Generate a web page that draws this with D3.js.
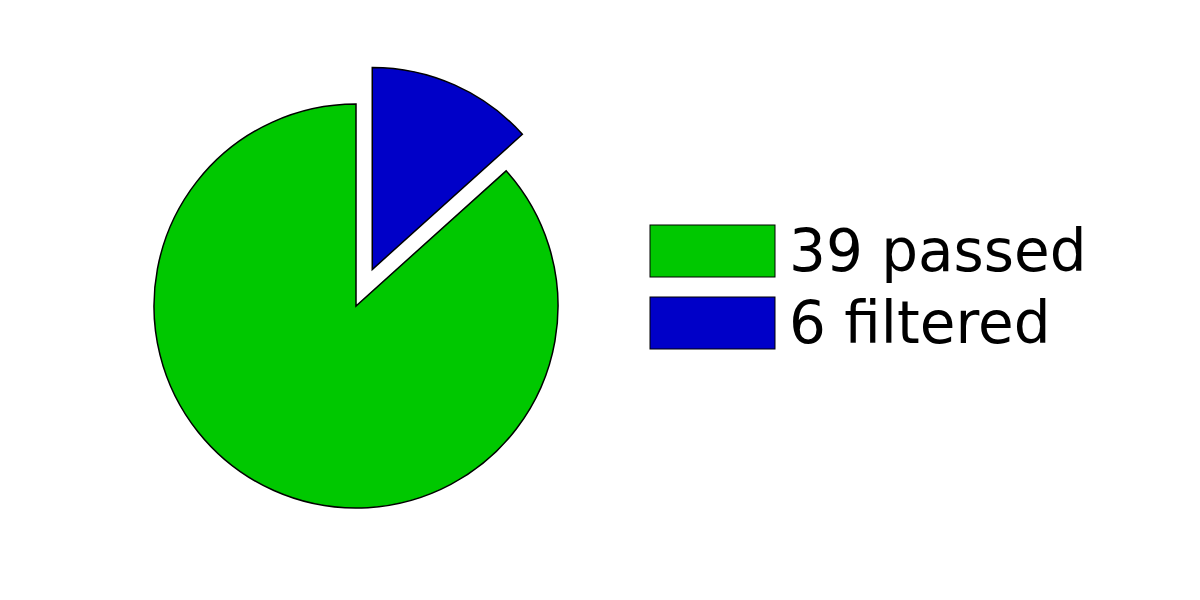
<!DOCTYPE html>
<html>
<head>
<meta charset="utf-8">
<script src="https://cdn.jsdelivr.net/npm/d3@7"></script>
<style>
html,body{margin:0;padding:0;background:#fff;}
svg{display:block;}
</style>
</head>
<body>
<svg id="chart" width="1200" height="600"></svg>
<script>
const categories = ["passed", "filtered"];
const values = [39, 6];
const colors = ["#00c800", "#0000c8"];
const explode = [0, 40];
const legendLabels = ["39 passed", "6 filtered"];

const svg = d3.select("#chart");
const cx = 356, cy = 306, r = 202;

// pie drawn starting at 12 o'clock clockwise, filtered slice first
const order = [1, 0];
const pie = d3.pie().sort(null).value(i => values[i]);
const arcs = pie(order);
const arc = d3.arc().innerRadius(0).outerRadius(r);

const g = svg.append("g").attr("transform", `translate(${cx},${cy})`);
g.selectAll("path").data(arcs).enter().append("path")
  .attr("d", arc)
  .attr("fill", d => colors[d.data])
  .attr("stroke", "#000")
  .attr("stroke-width", 1.5)
  .attr("stroke-linejoin", "miter")
  .attr("transform", d => {
    const a = (d.startAngle + d.endAngle) / 2;
    const o = explode[d.data];
    return `translate(${o * Math.sin(a)},${-o * Math.cos(a)})`;
  });

// legend
const ly = d3.scaleBand().domain(categories).range([225, 349]).paddingInner(20 / 72);
const leg = svg.append("g");
const items = leg.selectAll("g").data(categories).enter().append("g");
items.append("rect")
  .attr("x", 650).attr("y", d => ly(d))
  .attr("width", 125).attr("height", ly.bandwidth())
  .attr("fill", (d, i) => colors[i])
  .attr("stroke", "#000").attr("stroke-width", 1);
items.append("text")
  .attr("x", 789).attr("y", d => ly(d) + 46)
  .attr("font-family", "DejaVu Sans")
  .attr("font-size", 58)
  .attr("fill", "#000")
  .text((d, i) => legendLabels[i]);
</script>
</body>
</html>
